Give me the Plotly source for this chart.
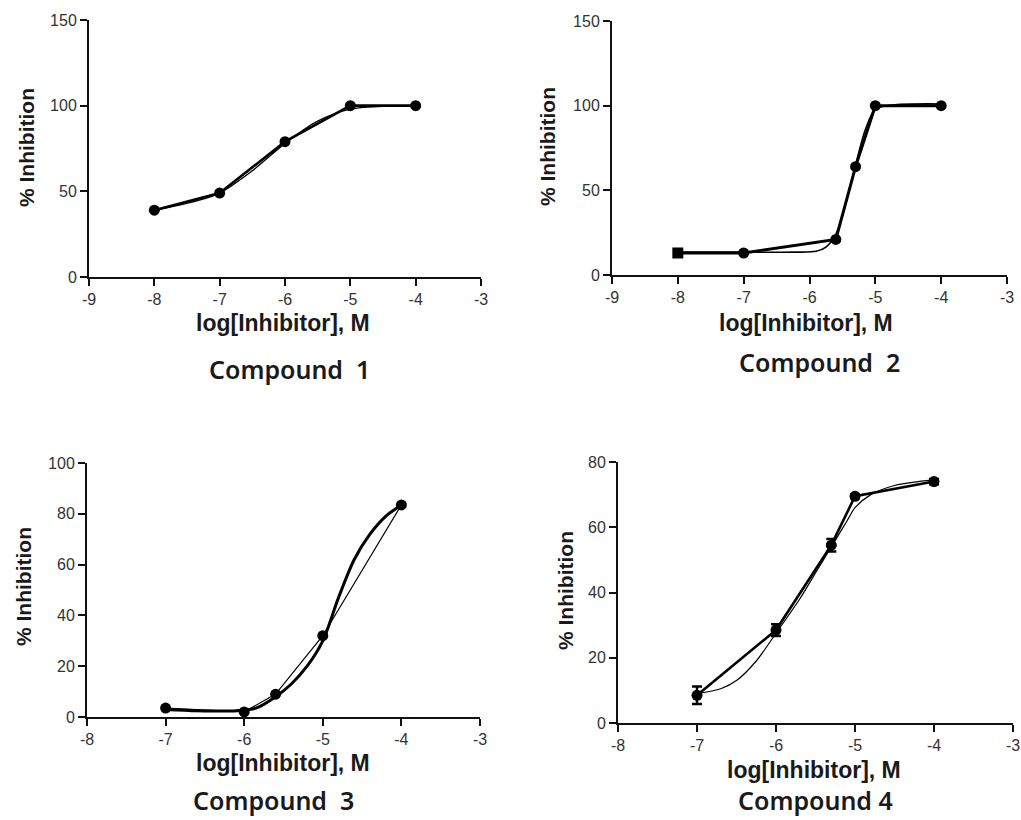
import plotly.graph_objects as go

W, H = 1021, 820

# ---------------- data ----------------
c1_x = [-8, -7, -6, -5, -4]
c1_y = [39, 49, 79, 100, 100]
c1_fit_x = [-8, -7.5, -7, -6.5, -6, -5.5, -5, -4.5, -4]
c1_fit_y = [39, 43, 49, 62, 78, 91, 98, 99.6, 100]

c2_x = [-8, -7, -5.6, -5.3, -5, -4]
c2_y = [13, 13, 21, 64, 100, 100]
c2_fit_x = [-8, -7, -6.2, -5.9, -5.75, -5.6, -5.45, -5.3, -5.15, -5, -4.7, -4]
c2_fit_y = [13.5, 13.5, 13.5, 14, 16.5, 24, 42, 65, 86, 98, 100.5, 101]

c3_x = [-7, -6, -5.6, -5, -4]
c3_y = [3.5, 2, 9, 32, 83.5]
c3_fit_x = [-7, -6.6, -6.1, -5.85, -5.6, -5.4, -5.2, -5, -4.8, -4.6, -4.4, -4.2, -4]
c3_fit_y = [3, 2.5, 2.5, 3.5, 8, 13, 20, 30, 47, 62, 72, 79, 83.5]

c4_x = [-7, -6, -5.3, -5, -4]
c4_y = [8.5, 28.5, 54.5, 69.5, 74]
c4_err = [2.7, 1.8, 1.9, 0.6, 0.8]
c4_fit_x = [-7, -6.7, -6.5, -6.25, -6, -5.7, -5.5, -5.3, -5.1, -5, -4.8, -4.5, -4.2, -4]
c4_fit_y = [9, 10.5, 13, 19, 27.5, 38, 46, 54, 62, 66, 70, 72.8, 74, 74.5]

x_ticks_top = [-9, -8, -7, -6, -5, -4, -3]
x_ticks_bot = [-8, -7, -6, -5, -4, -3]
y_ticks_1 = [0, 50, 100, 150]
y_ticks_3 = [0, 20, 40, 60, 80, 100]
y_ticks_4 = [0, 20, 40, 60, 80]

x_title = "log[Inhibitor], M"
y_title = "% Inhibition"
compounds = ["Compound  1", "Compound  2", "Compound  3", "Compound 4"]

# ---------------- figure ----------------
def px_x(p):
    return p / W

def px_y(p):
    return 1 - p / H

fig = go.Figure()

def add_panel(idx, dx, dy, fx, fy, data_w, fit_w, symbols=None, err=None):
    xa = "x" if idx == 1 else f"x{idx}"
    ya = "y" if idx == 1 else f"y{idx}"
    fig.add_trace(go.Scatter(
        x=fx, y=fy, mode="lines", line=dict(color="black", width=fit_w, shape="spline", smoothing=0.8),
        xaxis=xa, yaxis=ya, showlegend=False, hoverinfo="skip", cliponaxis=False))
    marker = dict(color="black", size=11, symbol=symbols if symbols else "circle")
    tr = dict(x=dx, y=dy, mode="lines+markers", line=dict(color="black", width=data_w),
              marker=marker, xaxis=xa, yaxis=ya, showlegend=False, cliponaxis=False)
    if err is not None:
        tr["error_y"] = dict(type="data", array=err, color="black", thickness=2.5, width=5)
    fig.add_trace(go.Scatter(**tr))

add_panel(1, c1_x, c1_y, c1_fit_x, c1_fit_y, 2.6, 1.3)
add_panel(2, c2_x, c2_y, c2_fit_x, c2_fit_y, 3.0, 1.6,
          symbols=["square"] + ["circle"] * (len(c2_x) - 1))
add_panel(3, c3_x, c3_y, c3_fit_x, c3_fit_y, 1.2, 3.0)
add_panel(4, c4_x, c4_y, c4_fit_x, c4_fit_y, 2.6, 1.2, err=c4_err)

tick_font = dict(family="Liberation Sans, Arial, sans-serif", size=16, color="#333333")

def xaxis(domain, anchor, rng, ticks):
    return dict(domain=domain, anchor=anchor, range=rng, tickvals=ticks,
                ticktext=[str(t) for t in ticks], automargin=False,
                showline=True, linecolor="#111", linewidth=2, ticks="outside",
                ticklen=7, tickwidth=2, tickcolor="#111", showgrid=False,
                zeroline=False, tickfont=tick_font, fixedrange=True)

def yaxis(domain, anchor, rng, ticks):
    return dict(domain=domain, anchor=anchor, range=rng, tickvals=ticks, automargin=False,
                showline=True, linecolor="#111", linewidth=2, ticks="outside",
                ticklen=7, tickwidth=2, tickcolor="#111", showgrid=False,
                zeroline=False, tickfont=tick_font, fixedrange=True)

fig.update_layout(
    width=W, height=H,
    margin=dict(l=0, r=0, t=0, b=0, autoexpand=False),
    paper_bgcolor="white", plot_bgcolor="white",
    xaxis=xaxis([px_x(89), px_x(481)], "y", [-9, -3], x_ticks_top),
    yaxis=yaxis([px_y(277), px_y(20)], "x", [0, 150], y_ticks_1),
    xaxis2=xaxis([px_x(612), px_x(1007)], "y2", [-9, -3], x_ticks_top),
    yaxis2=yaxis([px_y(275), px_y(21)], "x2", [0, 150], y_ticks_1),
    xaxis3=xaxis([px_x(87), px_x(480)], "y3", [-8, -3], x_ticks_bot),
    yaxis3=yaxis([px_y(717), px_y(463)], "x3", [0, 100], y_ticks_3),
    xaxis4=xaxis([px_x(618), px_x(1013)], "y4", [-8, -3], x_ticks_bot),
    yaxis4=yaxis([px_y(723), px_y(462)], "x4", [0, 80], y_ticks_4),
)

title_font = dict(family="Liberation Sans, Arial, sans-serif", size=23, color="#1a1a1a")
comp_font = dict(family="Noto Sans, DejaVu Sans, sans-serif", size=25, color="#1a1a1a", weight=600)

x_title_pos = [(283, 323), (806, 323), (283, 763), (814, 770)]
comp_pos = [(289, 369), (819, 362), (273, 800), (815, 800)]
y_title_pos = [(27, 148), (548, 147), (23, 587), (565, 591)]

for i in range(4):
    xp, yp = x_title_pos[i]
    fig.add_annotation(x=px_x(xp), y=px_y(yp), xref="paper", yref="paper",
                       text=f"<b>{x_title}</b>", showarrow=False, font=title_font,
                       xanchor="center", yanchor="middle")
    xp, yp = comp_pos[i]
    fig.add_annotation(x=px_x(xp), y=px_y(yp), xref="paper", yref="paper",
                       text=compounds[i], showarrow=False, font=comp_font,
                       xanchor="center", yanchor="middle")
    xp, yp = y_title_pos[i]
    fig.add_annotation(x=px_x(xp), y=px_y(yp), xref="paper", yref="paper",
                       text=f"<b>{y_title}</b>", showarrow=False, font=dict(title_font, size=21),
                       textangle=-90, xanchor="center", yanchor="middle")

fig.write_html("out.html",
               post_script="document.body.style.margin='0';document.body.style.padding='0';")
